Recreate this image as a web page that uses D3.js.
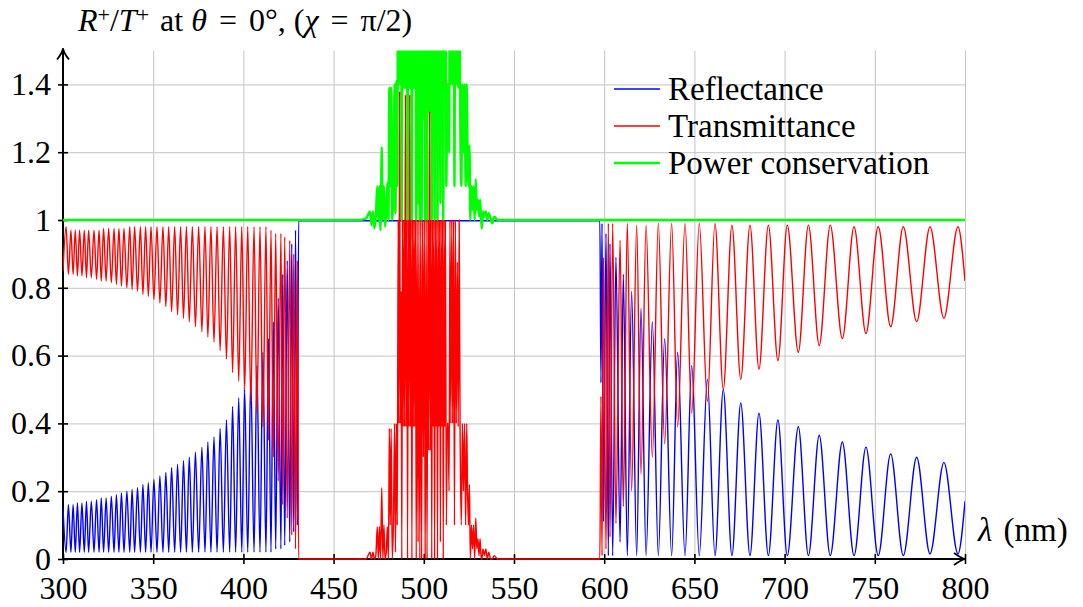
<!DOCTYPE html>
<html lang="en">
<head>
<meta charset="UTF-8">
<title>R+/T+ spectrum</title>
<script src="https://d3js.org/d3.v7.min.js"></script>
<style>
  body { margin: 0; background: #fff; }
  text { font-family: "Liberation Serif", "Times New Roman", serif; fill: #000; white-space: pre; }
</style>
</head>
<body>
<script>
// ---- data: [lambda (nm), R, T] at the extrema ----
var leftRows = [
  [300.0, 0.15, 0.85], [301.7, 0.02, 0.98], [303.0, 0.16, 0.84], [304.4, 0.02, 0.97],
  [305.6, 0.16, 0.84], [306.8, 0.02, 0.97], [308.0, 0.165, 0.835], [309.2, 0.02, 0.97],
  [310.5, 0.165, 0.835], [311.8, 0.02, 0.97], [313.0, 0.17, 0.83], [314.2, 0.02, 0.97],
  [315.7, 0.17, 0.83], [317.2, 0.02, 0.97], [318.6, 0.175, 0.825], [320.0, 0.02, 0.97],
  [321.2, 0.18, 0.82], [322.5, 0.02, 0.975], [323.9, 0.18, 0.82], [325.3, 0.02, 0.975],
  [326.8, 0.185, 0.815], [328.3, 0.02, 0.975], [329.6, 0.19, 0.81], [331.0, 0.02, 0.975],
  [332.4, 0.195, 0.805], [333.8, 0.02, 0.975], [335.4, 0.20, 0.80], [337.0, 0.02, 0.98],
  [338.3, 0.205, 0.795], [339.7, 0.02, 0.98], [341.3, 0.21, 0.79], [342.9, 0.02, 0.98],
  [344.3, 0.22, 0.78], [345.8, 0.02, 0.98], [347.3, 0.225, 0.775], [348.8, 0.02, 0.98],
  [350.4, 0.235, 0.765], [352.1, 0.02, 0.98], [353.7, 0.245, 0.755], [355.4, 0.02, 0.98],
  [357.0, 0.255, 0.745], [358.6, 0.02, 0.98], [360.2, 0.27, 0.73], [361.9, 0.02, 0.98],
  [363.5, 0.28, 0.72], [365.2, 0.02, 0.98], [366.8, 0.29, 0.71], [368.4, 0.02, 0.98],
  [370.0, 0.30, 0.70], [371.7, 0.02, 0.98], [373.4, 0.315, 0.685], [375.2, 0.02, 0.98],
  [377.0, 0.33, 0.67], [378.7, 0.02, 0.98], [380.3, 0.345, 0.655], [382.0, 0.02, 0.98],
  [383.7, 0.36, 0.64], [385.4, 0.02, 0.98], [387.1, 0.385, 0.615], [388.9, 0.02, 0.98],
  [390.6, 0.41, 0.59], [392.4, 0.02, 0.98], [394.0, 0.45, 0.55], [395.7, 0.02, 0.98],
  [397.4, 0.475, 0.525], [399.1, 0.02, 0.98], [400.7, 0.50, 0.50], [402.4, 0.02, 0.98],
  [404.1, 0.535, 0.465], [405.9, 0.02, 0.98], [407.5, 0.57, 0.43], [409.2, 0.02, 0.98],
  [410.8, 0.61, 0.39], [412.5, 0.02, 0.98], [413.9, 0.65, 0.35], [415.3, 0.02, 0.97],
  [416.6, 0.70, 0.30], [417.9, 0.03, 0.96], [419.3, 0.77, 0.23], [420.8, 0.03, 0.96],
  [421.8, 0.84, 0.16], [422.9, 0.04, 0.95], [424.3, 0.88, 0.12], [425.7, 0.05, 0.94],
  [426.8, 0.93, 0.07], [427.9, 0.08, 0.90], [428.9, 0.97, 0.03], [429.9, 0.10, 0.88]
];

// stop band edges [lambda, R, T]
var bandRows = [[430.6, 0.998, 0.0], [597.6, 0.998, 0.0]];

var rightRows = [
  [598.2, 0.52, 0.48], [598.8, 0.99, 0.01], [599.6, 0.11, 0.89], [601.0, 0.96, 0.03],
  [602.3, 0.01, 0.99], [603.2, 0.93, 0.065], [604.7, 0.01, 0.99], [606.5, 0.89, 0.105],
  [608.8, 0.05, 0.94], [610.6, 0.84, 0.155], [612.8, 0.01, 0.99], [615.2, 0.79, 0.20],
  [618.0, 0.01, 0.985], [620.4, 0.74, 0.25], [623.2, 0.01, 0.985], [626.7, 0.70, 0.30],
  [630.0, 0.01, 0.99], [633.5, 0.65, 0.34], [637.4, 0.01, 0.99], [640.7, 0.61, 0.39],
  [644.8, 0.01, 0.99], [648.5, 0.57, 0.43], [652.7, 0.01, 0.99], [657.2, 0.53, 0.465],
  [661.4, 0.01, 0.99], [666.0, 0.50, 0.50], [670.8, 0.01, 0.985], [675.7, 0.46, 0.53],
  [680.8, 0.01, 0.985], [685.8, 0.43, 0.56], [691.0, 0.01, 0.985], [696.3, 0.41, 0.585],
  [701.5, 0.01, 0.985], [707.6, 0.39, 0.61], [713.2, 0.01, 0.985], [719.2, 0.365, 0.63],
  [725.3, 0.01, 0.985], [732.0, 0.345, 0.65], [738.5, 0.01, 0.98], [745.1, 0.33, 0.665],
  [751.9, 0.01, 0.98], [758.8, 0.31, 0.685], [765.8, 0.01, 0.98], [773.2, 0.30, 0.70],
  [780.6, 0.015, 0.98], [788.3, 0.285, 0.71], [796.1, 0.015, 0.98], [800.0, 0.17, 0.82]
];

// noisy part of the stop band: [lambda, T, power conservation]
var noiseRows = [
  [464.0, 0, 1.0], [468.0, 0, 1.005], [470.2, 0.02, 1.025], [471.0, 0, 0.985],
  [471.8, 0.02, 1.025], [472.6, 0, 0.975], [473.4, 0.01, 1.01], [474.2, 0.095, 1.10],
  [474.8, 0, 1.0], [475.4, 0.095, 1.10], [476.0, 0, 0.97], [476.7, 0.21, 1.215],
  [477.3, 0, 1.0], [477.9, 0.10, 1.10], [478.5, 0, 0.98], [479.2, 0.02, 1.02],
  [479.8, 0.095, 1.11], [480.4, 0, 1.0], [480.9, 0.385, 1.39], [481.4, 0.10, 1.10],
  [481.9, 0.385, 1.39], [482.5, 0, 1.0], [483.2, 0.12, 1.12], [483.8, 0.40, 1.40],
  [484.3, 0.02, 1.02], [484.8, 0.40, 1.41], [485.3, 0.10, 1.10], [485.8, 1.0, 2.0],
  [486.2, 0.40, 1.40], [486.6, 1.38, 2.38], [487.0, 0.40, 1.40], [487.4, 0.79, 1.79],
  [487.8, 0, 1.0], [488.2, 1.0, 2.0], [488.6, 0.39, 1.39], [489.0, 1.0, 2.0],
  [489.4, 0.39, 1.39], [489.8, 1.37, 2.37], [490.2, 0.39, 1.39], [490.6, 1.0, 2.0],
  [491.0, 0, 1.0], [491.4, 1.0, 2.0], [491.8, 0.39, 1.39], [492.2, 1.37, 2.37],
  [492.6, 0.39, 1.39], [493.0, 1.0, 2.0], [493.4, 0, 1.0], [493.8, 1.0, 2.0],
  [494.2, 0.39, 1.39], [494.6, 1.0, 2.0], [495.0, 0.39, 1.39], [495.4, 1.0, 2.0],
  [495.8, 0, 1.0], [496.3, 1.0, 2.0], [496.8, 0.05, 1.05], [497.3, 1.0, 2.0],
  [497.8, 0, 1.0], [498.3, 1.0, 2.0], [498.8, 0, 1.0], [499.3, 1.0, 2.0],
  [499.8, 0.30, 1.30], [500.3, 1.0, 2.0], [500.8, 0, 1.0], [501.3, 1.0, 2.0],
  [501.8, 0, 1.0], [502.3, 1.0, 2.0], [502.7, 0.32, 1.32], [503.2, 1.32, 2.32],
  [503.6, 0.32, 1.32], [504.0, 1.0, 2.0], [504.4, 0, 1.0], [504.8, 1.0, 2.0],
  [505.2, 0.39, 1.39], [505.6, 1.0, 2.0], [506.0, 0, 1.0], [506.4, 1.0, 2.0],
  [506.8, 0.39, 1.39], [507.2, 1.0, 2.0], [507.6, 0, 1.0], [508.0, 1.0, 2.0],
  [508.4, 0.39, 1.39], [508.8, 1.0, 2.0], [509.2, 0.05, 1.05], [509.6, 1.0, 2.0],
  [510.0, 0.39, 1.39], [510.4, 1.0, 2.0], [510.8, 0, 1.0], [511.2, 1.0, 2.0],
  [511.6, 0.39, 1.39], [512.0, 1.0, 2.0], [512.5, 0.10, 1.10], [513.0, 0.40, 1.40],
  [513.5, 0.40, 1.40], [514.0, 0.20, 1.20], [514.5, 1.0, 2.0], [515.0, 0.40, 1.40],
  [515.5, 1.0, 2.0], [516.0, 0.40, 1.40], [516.5, 1.0, 2.0], [517.0, 0.10, 1.10],
  [517.5, 1.0, 2.0], [518.0, 0.40, 1.40], [518.6, 0.876, 1.876], [519.1, 0.39, 1.39],
  [519.6, 1.0, 2.0], [520.1, 0.39, 1.39], [520.8, 0.10, 1.10], [521.4, 0.40, 1.40],
  [522.0, 0.20, 1.20], [522.6, 0.40, 1.40], [523.2, 0.10, 1.10], [523.8, 0.40, 1.40],
  [524.2, 0.22, 1.226], [524.8, 0.10, 1.10], [525.3, 0.22, 1.22], [525.8, 0, 1.0],
  [526.4, 0.10, 1.10], [527.0, 0.03, 1.03], [527.6, 0.10, 1.10], [528.2, 0, 1.0],
  [528.8, 0.12, 1.12], [529.4, 0.03, 1.03], [530.0, 0.06, 1.06], [530.6, 0.01, 1.01],
  [531.2, 0.06, 1.06], [531.8, 0, 1.0], [532.2, 0, 0.975], [532.8, 0.03, 1.025],
  [533.6, 0.01, 1.01], [534.4, 0.03, 1.025], [535.2, 0, 1.0], [536.0, 0.02, 1.02],
  [537.0, 0, 1.005], [538.0, 0, 0.99], [539.0, 0.01, 1.01], [541.0, 0, 1.0]
];

// power conservation outside the noisy part: [lambda, value]
var powerRows = [[300, 1.0], [463.0, 1.0], [542.0, 1.0], [800, 1.0]];

var xTicks = [300, 350, 400, 450, 500, 550, 600, 650, 700, 750, 800];
var xTickLabels = ["300", "350", "400", "450", "500", "550", "600", "650", "700", "750", "800"];
var yTicks = [0, 0.2, 0.4, 0.6, 0.8, 1.0, 1.2, 1.4];
var yTickLabels = ["0", "0.2", "0.4", "0.6", "0.8", "1", "1.2", "1.4"];

var seriesNames = ["Reflectance", "Transmittance", "Power conservation"];
var seriesColors = ["#0000ff", "#ff0000", "#00ff00"];
var seriesWidths = [1.4, 1.4, 2.4];

// ---- layout ----
var width = 1083, height = 607;
var x0 = 63, x1 = 965, y0 = 559, y1 = 50.5;
var fontSize = 32;

var svg = d3.select("body").append("svg")
    .attr("width", width)
    .attr("height", height);

var x = d3.scaleLinear().domain([300, 800]).range([x0, x1]);
var y = d3.scaleLinear().domain([0, 1.5]).range([y0, y1]);

// grid
var gx = svg.append("g")
    .attr("transform", "translate(0," + y0 + ")")
    .call(d3.axisBottom(x).tickValues(xTicks).tickSize(-(y0 - y1)).tickFormat(""));
var gy = svg.append("g")
    .attr("transform", "translate(" + x0 + ",0)")
    .call(d3.axisLeft(y).tickValues(yTicks).tickSize(-(x1 - x0)).tickFormat(""));
[gx, gy].forEach(function(g) {
    g.select(".domain").remove();
    g.selectAll(".tick line").attr("stroke", "#c4c4c4").attr("stroke-width", 1);
});

// axes with ticks crossing the axis line (drawn below the curves)
var ax = svg.append("g")
    .attr("transform", "translate(0," + y0 + ")")
    .call(d3.axisBottom(x).tickValues(xTicks).tickSize(5).tickPadding(12)
        .tickFormat(function(d, i) { return xTickLabels[i]; }));
ax.selectAll(".tick line").attr("y1", -5).attr("stroke-width", 1.6);
var ay = svg.append("g")
    .attr("transform", "translate(" + x0 + ",0)")
    .call(d3.axisLeft(y).tickValues(yTicks).tickSize(5).tickPadding(7)
        .tickFormat(function(d, i) { return yTickLabels[i]; }));
ay.selectAll(".tick line").attr("x1", 5).attr("stroke-width", 1.6);
[ax, ay].forEach(function(g) {
    g.select(".domain").remove();
    g.selectAll("text")
        .style("font-family", "'Liberation Serif', serif")
        .style("font-size", fontSize + "px");
});

svg.append("path")
    .attr("d", "M" + x0 + "," + y0 + "H" + x1)
    .attr("stroke", "#000").attr("stroke-width", 2);
svg.append("path")
    .attr("d", "M" + x0 + "," + y0 + "V" + (y1 - 2))
    .attr("stroke", "#000").attr("stroke-width", 2);
// arrow tips
svg.append("path")
    .attr("d", "M" + (x1 - 11) + "," + (y0 - 6) + "Q" + (x1 - 4) + "," + (y0 - 1) + " " + x1 + "," + y0 +
               "Q" + (x1 - 4) + "," + (y0 + 1) + " " + (x1 - 11) + "," + (y0 + 6))
    .attr("fill", "none").attr("stroke", "#000").attr("stroke-width", 1.8);
svg.append("path")
    .attr("d", "M" + (x0 - 6) + "," + (y1 + 9) + "Q" + (x0 - 1) + "," + (y1 + 3) + " " + x0 + "," + (y1 - 2) +
               "Q" + (x0 + 1) + "," + (y1 + 3) + " " + (x0 + 6) + "," + (y1 + 9))
    .attr("fill", "none").attr("stroke", "#000").attr("stroke-width", 1.8);

// clip to the plot area
svg.append("clipPath").attr("id", "plotclip")
    .append("rect")
    .attr("x", x0).attr("y", y1)
    .attr("width", x1 - x0).attr("height", y0 - y1 + 2);

function byLam(a, b) { return a[0] - b[0]; }

var rPoints = leftRows.concat(bandRows, rightRows)
    .map(function(d) { return [d[0], d[1]]; }).sort(byLam);
var tPoints = leftRows.concat(bandRows, rightRows)
    .map(function(d) { return [d[0], d[2]]; })
    .concat(noiseRows.map(function(d) { return [d[0], d[1]]; }))
    .sort(byLam);
var pPoints = powerRows
    .concat(noiseRows.map(function(d) { return [d[0], d[2]]; }))
    .sort(byLam);

var line = d3.line()
    .x(function(d) { return x(d[0]); })
    .y(function(d) { return y(d[1]); })
    .curve(d3.curveMonotoneX);

var plot = svg.append("g").attr("clip-path", "url(#plotclip)");

// drawing order: reflectance, power conservation, transmittance
[[rPoints, 0], [pPoints, 2], [tPoints, 1]].forEach(function(s) {
    plot.append("path")
        .datum(s[0])
        .attr("fill", "none")
        .attr("stroke", seriesColors[s[1]])
        .attr("stroke-width", seriesWidths[s[1]])
        .attr("stroke-linejoin", "round")
        .attr("d", line);
});

// title
var title = svg.append("text")
    .attr("x", 78).attr("y", 31)
    .style("font-size", fontSize + "px");
title.append("tspan").style("font-style", "italic").text("R");
title.append("tspan").attr("baseline-shift", "40%").style("font-size", "22px").text("+");
title.append("tspan").text("/");
title.append("tspan").style("font-style", "italic").text("T");
title.append("tspan").attr("baseline-shift", "40%").style("font-size", "22px").text("+");
title.append("tspan").attr("dx", 3).text(" at ");
title.append("tspan").style("font-style", "italic").text("θ");
title.append("tspan").attr("dx", 4).text(" = ");
title.append("tspan").attr("dx", 4).text("0°, (");
title.append("tspan").style("font-style", "italic").text("χ");
title.append("tspan").attr("dx", 4).text(" = ");
title.append("tspan").attr("dx", 4).text("π/2)");

// x axis label
var xl = svg.append("text")
    .attr("x", 978).attr("y", 541)
    .style("font-size", "33px");
xl.append("tspan").style("font-style", "italic").text("λ");
xl.append("tspan").attr("dx", 3).text(" (nm)");

// legend
var legend = svg.append("g");
seriesNames.forEach(function(name, i) {
    var ly = 89 + i * 37;
    legend.append("line")
        .attr("x1", 614).attr("x2", 660)
        .attr("y1", ly).attr("y2", ly)
        .attr("stroke", seriesColors[i])
        .attr("stroke-width", seriesWidths[i]);
    legend.append("text")
        .attr("x", 668).attr("y", ly)
        .attr("dy", "0.33em")
        .style("font-size", "33px")
        .text(name);
});
</script>
</body>
</html>
